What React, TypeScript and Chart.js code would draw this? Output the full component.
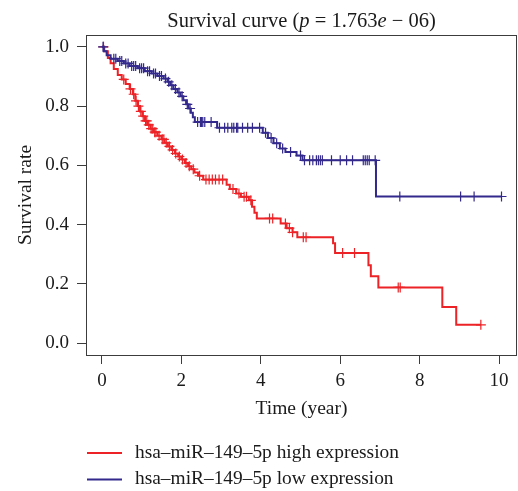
import React, { useEffect, useRef } from "react";
import { Chart, registerables } from "chart.js";

Chart.register(...registerables);

// ---- data ----
const xTicks = [0, 2, 4, 6, 8, 10];
const yTicks = [0, 0.2, 0.4, 0.6, 0.8, 1.0];
const seriesLabels = ["hsa–miR–149–5p high expression", "hsa–miR–149–5p low expression"];
const seriesColors = ["#ec2226", "#33298c"];
const titleParts = [
  { text: "Survival curve (", italic: false },
  { text: "p", italic: true },
  { text: " = 1.763", italic: false },
  { text: "e", italic: true },
  { text: " − 06)", italic: false },
];
const xTitle = "Time (year)";
const yTitle = "Survival rate";

// high expression (red): event times and survival after each drop
const highTimes = [0, 0.06, 0.15, 0.22, 0.3, 0.4, 0.5, 0.6, 0.7, 0.78, 0.84, 0.9, 0.96, 1.02, 1.08, 1.15, 1.22, 1.3, 1.4, 1.5, 1.58, 1.66, 1.75, 1.84, 1.92, 2.0, 2.09, 2.17, 2.25, 2.33, 2.42, 2.55, 3.14, 3.22, 3.38, 3.5, 3.7, 3.78, 3.84, 3.9, 4.5, 4.65, 4.8, 4.92, 5.82, 5.87, 6.71, 6.77, 6.96, 8.57, 8.92];
const highSurv = [1.0, 0.985, 0.962, 0.945, 0.925, 0.905, 0.89, 0.875, 0.858, 0.84, 0.818, 0.8, 0.782, 0.766, 0.75, 0.737, 0.724, 0.712, 0.7, 0.688, 0.676, 0.664, 0.652, 0.64, 0.63, 0.62, 0.608, 0.597, 0.587, 0.576, 0.565, 0.552, 0.535, 0.52, 0.505, 0.494, 0.482, 0.46, 0.44, 0.421, 0.404, 0.388, 0.374, 0.357, 0.337, 0.304, 0.263, 0.226, 0.188, 0.122, 0.062];
const highCensor = [0.04, 0.55, 0.72, 0.8, 0.86, 0.92, 0.98, 1.04, 1.1, 1.13, 1.18, 1.24, 1.28, 1.33, 1.36, 1.44, 1.52, 1.56, 1.62, 1.7, 1.78, 1.86, 1.95, 2.03, 2.12, 2.2, 2.3, 2.46, 2.62, 2.7, 2.78, 2.86, 2.95, 3.04, 3.3, 3.45, 3.58, 3.64, 3.75, 4.22, 4.3, 4.62, 4.72, 4.8, 5.07, 5.14, 6.06, 6.36, 7.46, 7.51, 9.54];

// low expression (blue)
const lowTimes = [0, 0.05, 0.12, 0.22, 0.4, 0.55, 0.7, 0.9, 1.08, 1.25, 1.4, 1.55, 1.65, 1.72, 1.8, 1.9, 1.98, 2.05, 2.12, 2.18, 2.24, 2.29, 2.34, 2.9, 4.05, 4.18, 4.32, 4.48, 4.62, 4.9, 5.05, 6.9];
const lowSurv = [1.0, 0.985, 0.972, 0.96, 0.952, 0.944, 0.935, 0.928, 0.918, 0.91, 0.902, 0.893, 0.882, 0.87, 0.858, 0.846, 0.833, 0.82, 0.806, 0.792, 0.778, 0.762, 0.746, 0.727, 0.71, 0.692, 0.675, 0.657, 0.645, 0.633, 0.617, 0.495];
const lowCensor = [0.03, 0.3, 0.35, 0.45, 0.5, 0.6, 0.66, 0.75, 0.8, 0.85, 0.95, 1.0, 1.05, 1.15, 1.2, 1.3, 1.35, 1.45, 1.5, 1.6, 1.68, 1.76, 1.85, 1.94, 2.02, 2.15, 2.22, 2.41, 2.48, 2.51, 2.54, 2.59, 2.75, 2.96, 3.09, 3.17, 3.27, 3.32, 3.39, 3.42, 3.54, 3.67, 3.79, 3.97, 4.12, 4.26, 4.4, 4.55, 4.75, 5.0, 5.1, 5.23, 5.31, 5.4, 5.45, 5.5, 5.55, 5.78, 6.0, 6.16, 6.31, 6.58, 6.63, 6.68, 6.73, 6.88, 7.5, 9.03, 9.37, 10.06];

const FONT = "'Liberation Serif', 'Times New Roman', serif";

function survAt(times: number[], surv: number[], t: number) {
  let s = surv[0];
  for (let i = 0; i < times.length; i++) if (times[i] <= t) s = surv[i];
  return s;
}

function curvePoints(times: number[], surv: number[], censor: number[]) {
  const pts = times.map((t, i) => ({ x: t, y: surv[i] }));
  const end = Math.max(...censor);
  if (end > times[times.length - 1]) pts.push({ x: end, y: survAt(times, surv, end) });
  return pts;
}

function censorPoints(times: number[], surv: number[], censor: number[]) {
  return censor.map((t) => ({ x: t, y: survAt(times, surv, t) }));
}

const decorPlugin = {
  id: "decor",
  afterDraw(chart: any) {
    const { ctx, chartArea } = chart;
    ctx.save();
    // box
    ctx.strokeStyle = "#3c3c3c";
    ctx.lineWidth = 1;
    ctx.strokeRect(chartArea.left + 0.5, chartArea.top + 0.5, chartArea.right - chartArea.left - 1, chartArea.bottom - chartArea.top);
    // title
    const tsize = 20.5;
    ctx.fillStyle = "#1a1a1a";
    ctx.textBaseline = "alphabetic";
    let total = 0;
    const widths = titleParts.map((p) => {
      ctx.font = `${p.italic ? "italic " : ""}${tsize}px ${FONT}`;
      const w = ctx.measureText(p.text).width;
      total += w;
      return w;
    });
    let x = (chartArea.left + chartArea.right) / 2 - total / 2;
    titleParts.forEach((p, i) => {
      ctx.font = `${p.italic ? "italic " : ""}${tsize}px ${FONT}`;
      ctx.fillText(p.text, x, 27);
      x += widths[i];
    });
    // legend
    const rows = [453, 479.5];
    seriesLabels.forEach((lab, i) => {
      ctx.strokeStyle = seriesColors[i];
      ctx.lineWidth = 2;
      ctx.beginPath();
      ctx.moveTo(87, rows[i]);
      ctx.lineTo(122, rows[i]);
      ctx.stroke();
      ctx.font = `19.4px ${FONT}`;
      ctx.fillStyle = "#1a1a1a";
      ctx.fillText(lab, 135, rows[i] + 4.8);
    });
    ctx.restore();
  },
};

export default function App() {
  const ref = useRef<HTMLCanvasElement>(null);
  useEffect(() => {
    if (!ref.current) return;
    const tickFont = { family: FONT, size: 19 };
    const gridCommon = {
      display: true,
      drawOnChartArea: false,
      drawTicks: true,
      tickLength: 9,
      color: "#3c3c3c",
      lineWidth: 1,
    };
    const chart = new Chart(ref.current, {
      type: "scatter",
      data: {
        datasets: [
          {
            label: seriesLabels[1],
            data: curvePoints(lowTimes, lowSurv, lowCensor),
            showLine: true,
            stepped: true,
            borderColor: seriesColors[1],
            borderWidth: 2,
            pointRadius: 0,
            order: 0,
          },
          {
            label: seriesLabels[1] + " censored",
            data: censorPoints(lowTimes, lowSurv, lowCensor),
            showLine: false,
            pointStyle: "cross",
            pointRadius: 5,
            borderColor: seriesColors[1],
            borderWidth: 1.2,
            order: 0,
          },
          {
            label: seriesLabels[0],
            data: curvePoints(highTimes, highSurv, highCensor),
            showLine: true,
            stepped: true,
            borderColor: seriesColors[0],
            borderWidth: 2,
            pointRadius: 0,
            order: 1,
          },
          {
            label: seriesLabels[0] + " censored",
            data: censorPoints(highTimes, highSurv, highCensor),
            showLine: false,
            pointStyle: "cross",
            pointRadius: 5,
            borderColor: seriesColors[0],
            borderWidth: 1.2,
            order: 1,
          },
        ],
      },
      options: {
        responsive: false,
        animation: false,
        layout: { autoPadding: false, padding: { top: 35, right: 1, bottom: 66, left: 0 } },
        plugins: {
          legend: { display: false },
          tooltip: { enabled: false },
          title: { display: false },
        },
        scales: {
          x: {
            type: "linear",
            min: -0.4,
            max: 10.45,
            afterBuildTicks: (s: any) => {
              s.ticks = xTicks.map((v) => ({ value: v }));
            },
            afterFit: (s: any) => {
              s.height = 70;
              s.paddingLeft = 0;
              s.paddingRight = 0;
            },
            ticks: {
              font: tickFont,
              color: "#1a1a1a",
              padding: 6,
              maxRotation: 0,
              autoSkip: false,
              callback: (v: any) => String(v),
            },
            grid: gridCommon,
            border: { display: false },
            title: {
              display: true,
              text: xTitle,
              font: { family: FONT, size: 19.5 },
              color: "#1a1a1a",
              padding: { top: 0, bottom: 4 },
            },
          },
          y: {
            type: "linear",
            min: -0.04,
            max: 1.04,
            afterBuildTicks: (s: any) => {
              s.ticks = yTicks.map((v) => ({ value: v }));
            },
            afterFit: (s: any) => {
              s.width = 86;
              s.paddingTop = 0;
              s.paddingBottom = 0;
            },
            ticks: {
              font: tickFont,
              color: "#1a1a1a",
              padding: 8,
              autoSkip: false,
              callback: (v: any) => Number(v).toFixed(1),
            },
            grid: gridCommon,
            border: { display: false },
            title: {
              display: true,
              text: yTitle,
              font: { family: FONT, size: 19.5 },
              color: "#1a1a1a",
              padding: { top: 14, bottom: 0 },
            },
          },
        },
      },
      plugins: [decorPlugin],
    } as any);
    return () => chart.destroy();
  }, []);
  return (
    <div style={{ position: "absolute", left: 0, top: 0, width: 518, height: 491, background: "#fff" }}>
      <canvas ref={ref} width={518} height={491} style={{ display: "block" }} />
    </div>
  );
}
